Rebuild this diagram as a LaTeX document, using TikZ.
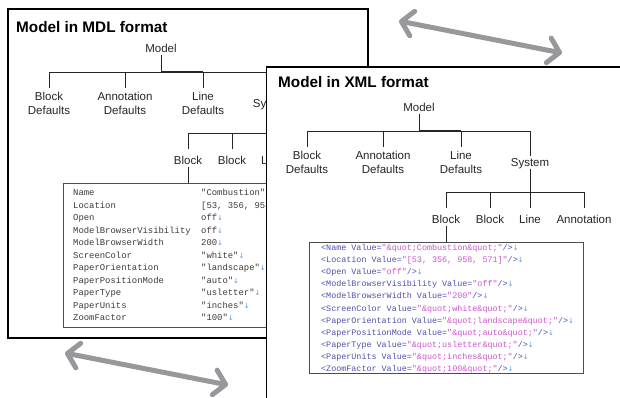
\documentclass[tikz,border=0pt]{standalone}
\usepackage{fontspec}
\setmainfont{Liberation Sans}
\setmonofont{Liberation Mono}
\newfontfamily\arrfont{DejaVu Sans}
\usetikzlibrary{arrows.meta}
\definecolor{tagc}{RGB}{80,80,175}
\definecolor{valc}{RGB}{205,85,205}
\definecolor{arrc}{RGB}{85,155,220}
\definecolor{gry}{RGB}{152,152,156}
\definecolor{mtxt}{RGB}{60,60,60}
\newcommand\dn{{\color{arrc}\arrfont\fontsize{7}{8}\selectfont ↓}}
\newcommand\xv[2]{{\color{tagc}<#1 Value=}{\color{valc}"#2"}{\color{tagc}/>}\dn}
\newcommand\mrow[3]{%
  \node[mono,anchor=base west] (mk#1) at (73,{195.5+12.52*(#1-1)}) {#2};
  \node[mono,anchor=base west] (mv#1) at (201,{195.5+12.52*(#1-1)}) {#3};}
\newcommand\xrow[3]{%
  \node[xmono,anchor=base west] (xr#1) at (321,{250.3+12.14*(#1-1)}) {\xv{#2}{#3}};}
\newcommand\treepanel[1]{%
  \node[lbl,anchor=base] (#1model) at (161,52) {Model};
  \coordinate (#1bar) at (161,72);
  \node[lbl,anchor=north] (#1bd) at (49,92) {Block\\Defaults};
  \node[lbl,anchor=north] (#1ad) at (125,92) {Annotation\\Defaults};
  \node[lbl,anchor=north] (#1ld) at (203,92) {Line\\Defaults};
  \node[lbl,anchor=north] (#1sys) at (272,99) {System};
  \coordinate (#1bar2) at (272,133);
  \node[lbl,anchor=north] (#1bA) at (188,156) {Block};
  \node[lbl,anchor=north] (#1bB) at (232,156) {Block};
  \node[lbl,anchor=north] (#1ln) at (272,156) {Line};
  \node[lbl,anchor=north] (#1an) at (326,156) {Annotation};
  \draw[tree,shorten <=3pt] (#1model.south) -- (#1bar);
  \draw[tree] (#1bd.north |- #1bar) -- (#1sys.north |- #1bar);
  \draw[tree,line width=1.7pt] (#1model.south |- #1bar) -- (#1ld.north |- #1bar);
  \foreach \n in {bd,ad,ld}{\draw[tree,shorten >=4pt] (#1\n.north |- #1bar) -- (#1\n.north);}
  \draw[tree,shorten >=2pt] (#1sys.north |- #1bar) -- (#1sys.north);
  \draw[tree,shorten >=7pt] (#1sys.south) -- (#1ln.north);
  \draw[tree] (#1bA.north |- #1bar2) -- (#1an.north |- #1bar2);
  \foreach \n in {bA,bB,an}{\draw[tree,shorten >=7pt] (#1\n.north |- #1bar2) -- (#1\n.north);}
}
\tikzset{
  tree/.style={draw=black!85,line width=0.9pt},
  lbl/.style={font=\fontsize{11.5}{14.3}\selectfont,align=center,inner sep=0pt,text=black!85},
  frame/.style={draw=black,line width=1.2pt},
  tabbox/.style={draw=black!70,line width=1.3pt,inner sep=0pt,fill=white},
  mono/.style={font=\ttfamily\fontsize{8.9}{10}\selectfont,text=mtxt,inner sep=0pt},
  xmono/.style={font=\ttfamily\fontsize{8.4}{10}\selectfont,inner sep=0pt},
  title/.style={font=\bfseries\fontsize{15.3}{18}\selectfont,anchor=base west,inner sep=0pt},
  bigarrow/.style={draw=gry,line width=5pt,line cap=round,
    >={Straight Barb[length=11pt,width=25pt,round]},<->}
}
\begin{document}
\begin{tikzpicture}[x=1pt,y=-1pt]
\useasboundingbox (0,0) rectangle (620,397);
\clip (0,0) rectangle (620,397);
\fill[white] (0,0) rectangle (620,397);
% ---------- MDL panel ----------
\draw[frame] (8,9) rectangle (368,338);
\node[title] (t1) at (16,32) {Model in MDL format};
\treepanel{m}
\node[tabbox,anchor=north west,minimum width=300pt,minimum height=144pt] (mtab) at (63,183) {};
\draw[tree,shorten <=2.5pt] (mbA.south) -- (mbA.south |- mtab.north);
\mrow{1}{Name}{"Combustion"\dn}
\mrow{2}{Location}{[53, 356, 958, 571]\dn}
\mrow{3}{Open}{off\dn}
\mrow{4}{ModelBrowserVisibility}{off\dn}
\mrow{5}{ModelBrowserWidth}{200\dn}
\mrow{6}{ScreenColor}{"white"\dn}
\mrow{7}{PaperOrientation}{"landscape"\dn}
\mrow{8}{PaperPositionMode}{"auto"\dn}
\mrow{9}{PaperType}{"usletter"\dn}
\mrow{10}{PaperUnits}{"inches"\dn}
\mrow{11}{ZoomFactor}{"100"\dn}
% ---------- arrows ----------
\coordinate (a1) at (399,21);
\coordinate (a2) at (562,53);
\draw[bigarrow] (a1) -- (a2);
\coordinate (b1) at (65,353);
\coordinate (b2) at (228,385);
\draw[bigarrow] (b1) -- (b2);
% ---------- XML panel ----------
\draw[frame,fill=white] (266.5,67) rectangle (640,420);
\node[title] (t2) at (278,87) {Model in XML format};
\begin{scope}[shift={(258,59)}]
\treepanel{x}
\end{scope}
\node[tabbox,anchor=north west,minimum width=274pt,minimum height=131pt] (xtab) at (309,242) {};
\draw[tree,shorten <=2.5pt] (xbA.south) -- (xbA.south |- xtab.north);
\xrow{1}{Name}{\&quot;Combustion\&quot;}
\xrow{2}{Location}{[53, 356, 958, 571]}
\xrow{3}{Open}{off}
\xrow{4}{ModelBrowserVisibility}{off}
\xrow{5}{ModelBrowserWidth}{200}
\xrow{6}{ScreenColor}{\&quot;white\&quot;}
\xrow{7}{PaperOrientation}{\&quot;landscape\&quot;}
\xrow{8}{PaperPositionMode}{\&quot;auto\&quot;}
\xrow{9}{PaperType}{\&quot;usletter\&quot;}
\xrow{10}{PaperUnits}{\&quot;inches\&quot;}
\xrow{11}{ZoomFactor}{\&quot;100\&quot;}
\end{tikzpicture}
\end{document}
